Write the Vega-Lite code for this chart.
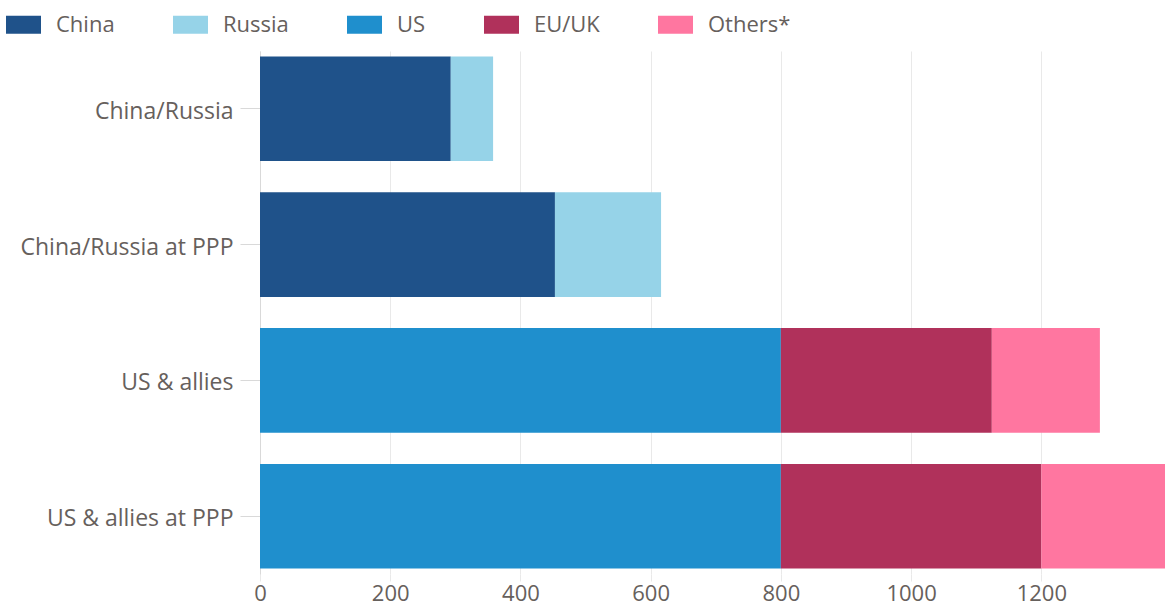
{
  "$schema": "https://vega.github.io/schema/vega-lite/v6.json",
  "width": 905,
  "height": 523,
  "autosize": "none",
  "padding": {"left": 260, "top": 51, "right": 2, "bottom": 31},
  "background": "white",
  "config": {
    "view": {"stroke": null},
    "font": "Open Sans"
  },
  "data": {
    "values": [
      {"group": "China/Russia", "member": "China", "order": 1, "value": 293},
      {"group": "China/Russia", "member": "Russia", "order": 2, "value": 65},
      {"group": "China/Russia at PPP", "member": "China", "order": 1, "value": 453},
      {"group": "China/Russia at PPP", "member": "Russia", "order": 2, "value": 163},
      {"group": "US & allies", "member": "US", "order": 3, "value": 800},
      {"group": "US & allies", "member": "EU/UK", "order": 4, "value": 324},
      {"group": "US & allies", "member": "Others*", "order": 5, "value": 166},
      {"group": "US & allies at PPP", "member": "US", "order": 3, "value": 800},
      {"group": "US & allies at PPP", "member": "EU/UK", "order": 4, "value": 400},
      {"group": "US & allies at PPP", "member": "Others*", "order": 5, "value": 190}
    ]
  },
  "mark": {"type": "bar"},
  "encoding": {
    "y": {
      "field": "group",
      "type": "nominal",
      "sort": ["China/Russia", "China/Russia at PPP", "US & allies", "US & allies at PPP"],
      "scale": {"paddingInner": 0.23, "paddingOuter": 0.04},
      "axis": {
        "title": null,
        "domain": true,
        "domainColor": "#d9d9d9",
        "tickColor": "#d9d9d9",
        "tickSize": 20,
        "labelPadding": 7,
        "labelFontSize": 23,
        "labelLimit": 300,
        "labelOffset": 3,
        "labelColor": "#66605c",
        "grid": false
      }
    },
    "x": {
      "field": "value",
      "type": "quantitative",
      "stack": "zero",
      "scale": {"domain": [0, 1390], "nice": false},
      "axis": {
        "title": null,
        "values": [0, 200, 400, 600, 800, 1000, 1200],
        "format": "d",
        "domain": false,
        "grid": true,
        "gridColor": "#e9e9e9",
        "tickColor": "#e9e9e9",
        "tickSize": 7,
        "labelPadding": 2,
        "labelFontSize": 22,
        "labelColor": "#66605c",
        "labelFlush": false
      }
    },
    "color": {
      "field": "member",
      "type": "nominal",
      "scale": {
        "domain": ["China", "Russia", "US", "EU/UK", "Others*"],
        "range": ["#1f528a", "#96d3e8", "#1f8fcd", "#b0315b", "#ff76a0"]
      },
      "legend": {
        "title": null,
        "orient": "none",
        "direction": "horizontal",
        "legendX": -254,
        "legendY": -44,
        "symbolType": "M-1,-0.514L1,-0.514L1,0.514L-1,0.514Z",
        "symbolSize": 1225,
        "symbolStrokeWidth": 0,
        "labelFontSize": 22,
        "labelColor": "#66605c",
        "labelOffset": 15,
        "columnPadding": 58
      }
    },
    "order": {"field": "order", "type": "quantitative"}
  }
}
